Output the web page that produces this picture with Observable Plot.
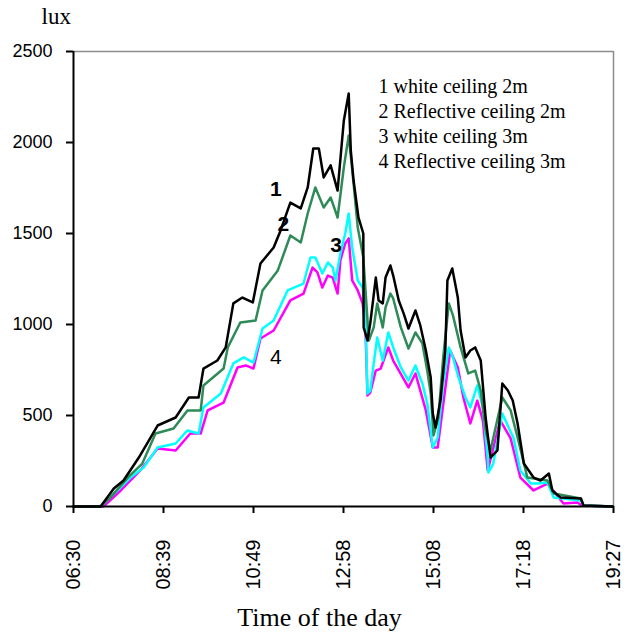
<!DOCTYPE html>
<html>
<head>
<meta charset="utf-8">
<script src="https://cdn.jsdelivr.net/npm/d3@7"></script>
<script src="https://cdn.jsdelivr.net/npm/@observablehq/plot@0.6"></script>
<style>
  html, body { margin: 0; padding: 0; background: #ffffff; }
</style>
</head>
<body>
<div id="chart"></div>
<script>
// ---- data (time in minutes since midnight, illuminance in lux) ----
const tickTimes = [390, 519.5, 649, 778.5, 908, 1037.5, 1167];
const tickLabels = ["06:30", "08:39", "10:49", "12:58", "15:08", "17:18", "19:27"];
const yTicks = [0, 500, 1000, 1500, 2000, 2500];

const seriesNames = ["1 white ceiling 2m", "2 Reflective ceiling 2m", "3 white ceiling 3m", "4 Reflective ceiling 3m"];
const seriesColors = ["#000000", "#2e8b57", "#00ffff", "#ff00ff"];

// series 1: white ceiling 2m
const t1 = [390, 429, 448, 462, 484, 511, 537, 556, 570, 577, 597, 609, 620, 633, 648, 659, 678, 688, 702, 717, 727, 735, 743, 750, 760, 770, 779, 786, 789, 793, 800, 807, 807.5, 813, 817, 825, 829, 835, 839, 846, 850, 858, 865, 872, 882, 889, 897, 904, 907, 911, 918, 925, 928, 935, 943, 947, 954, 961, 968, 976, 983, 990, 1000, 1007, 1015, 1022, 1029, 1038, 1052, 1062, 1074, 1079, 1091, 1120, 1124, 1166];
const v1 = [0, 0, 99, 143, 269, 445, 489, 599, 599, 758, 802, 874, 1116, 1148, 1121, 1335, 1423, 1517, 1670, 1638, 1753, 1967, 1967, 1808, 1874, 1736, 2121, 2269, 1956, 1791, 1588, 1500, 984, 912, 1006, 1258, 1132, 1116, 1258, 1324, 1269, 1132, 1061, 978, 1077, 995, 857, 709, 511, 434, 582, 857, 1242, 1308, 1148, 967, 819, 857, 874, 802, 489, 269, 308, 676, 637, 582, 456, 236, 159, 143, 181, 88, 49, 44, 5, 0];

// series 2: reflective ceiling 2m
const t2 = [390, 429, 443, 468, 489, 508, 534, 554, 573, 577, 606, 612, 630, 652, 662, 684, 702, 717, 727, 738, 750, 760, 770, 779, 786, 793, 799, 806, 807, 815, 822, 827, 835, 839, 846, 850, 861, 872, 882, 892, 899, 904, 908, 915, 922, 930, 936, 947, 958, 968, 976, 983, 990, 1007, 1019, 1029, 1043, 1072, 1081, 1120, 1124, 1166];
const v2 = [0, 0, 49, 159, 236, 401, 429, 528, 528, 665, 758, 874, 1011, 1022, 1187, 1297, 1489, 1451, 1610, 1753, 1643, 1698, 1588, 1863, 2039, 1775, 1533, 1390, 1368, 912, 984, 1116, 984, 1094, 1170, 1143, 984, 868, 956, 896, 747, 621, 390, 489, 819, 1116, 1050, 874, 731, 747, 637, 418, 308, 599, 528, 379, 159, 143, 71, 44, 5, 0];

// series 3: white ceiling 3m
const t3 = [390, 429, 453, 472, 491, 511, 537, 554, 570, 577, 602, 620, 635, 649, 662, 678, 698, 721, 731, 738, 748, 756, 763, 767, 774, 781, 786, 791, 799, 806, 810, 813, 817, 822, 827, 835, 843, 850, 861, 872, 882, 892, 899, 907, 914, 922, 930, 936, 944, 954, 961, 971, 979, 986, 987, 994, 1007, 1016, 1023, 1033, 1048, 1058, 1072, 1081, 1120, 1124, 1166];
const v3 = [0, 0, 88, 159, 214, 324, 346, 418, 401, 544, 621, 786, 819, 791, 978, 1022, 1187, 1225, 1368, 1368, 1280, 1341, 1313, 1242, 1390, 1500, 1610, 1423, 1242, 1203, 1061, 621, 637, 786, 929, 802, 956, 874, 764, 692, 775, 676, 566, 324, 379, 676, 874, 819, 709, 599, 544, 665, 544, 269, 187, 236, 511, 434, 379, 198, 126, 126, 132, 49, 33, 5, 0];

// series 4: reflective ceiling 3m
const t4 = [390, 433, 458, 486, 511, 537, 558, 573, 583, 606, 626, 638, 649, 659, 678, 702, 721, 734, 741, 748, 756, 763, 770, 774, 781, 786, 791, 799, 806, 810, 813, 817, 825, 832, 843, 850, 872, 882, 897, 907, 914, 932, 943, 951, 961, 971, 979, 986, 1004, 1019, 1033, 1052, 1072, 1095, 1115, 1122, 1166];
const v4 = [0, 0, 88, 198, 319, 308, 401, 401, 528, 571, 764, 775, 758, 923, 967, 1132, 1170, 1313, 1286, 1203, 1269, 1258, 1170, 1352, 1445, 1473, 1242, 1187, 1116, 984, 610, 626, 747, 758, 874, 802, 654, 731, 528, 324, 324, 857, 764, 599, 456, 582, 473, 198, 473, 374, 159, 88, 126, 16, 22, 5, 0];

// curve number annotations
const labelText = ["1", "2", "3", "4"];
const labelTime = [681, 692, 768, 681];
const labelLux = [1742, 1550, 1434, 819];
const labelWeight = ["bold", "bold", "bold", "normal"];

// ---- build table ----
const seriesT = [t1, t2, t3, t4];
const seriesV = [v1, v2, v3, v4];
const rows = [];
// draw order: 4, 3, 2, 1
[3, 2, 1, 0].forEach(s => {
  seriesT[s].forEach((t, i) => rows.push({series: seriesNames[s], time: t, lux: seriesV[s][i]}));
});
const labels = labelText.map((t, i) => ({text: t, time: labelTime[i], lux: labelLux[i], weight: labelWeight[i]}));
const tickLabelMap = new Map(tickTimes.map((t, i) => [t, tickLabels[i]]));

const serif = "'Liberation Serif', 'Times New Roman', serif";
const sans = "'Liberation Sans', Arial, sans-serif";

const chart = Plot.plot({
  width: 639,
  height: 633,
  marginLeft: 73,
  marginRight: 26,
  marginTop: 51,
  marginBottom: 127,
  style: {fontFamily: sans, background: "#ffffff", overflow: "visible", color: "#000"},
  x: {domain: [390, 1167]},
  y: {domain: [0, 2500]},
  color: {domain: seriesNames, range: seriesColors},
  marks: [
    Plot.ruleY([2500], {stroke: "#8c8c8c", strokeWidth: 1.5}),
    Plot.ruleX([1167], {stroke: "#8c8c8c", strokeWidth: 1.5}),
    Plot.line(rows, {x: "time", y: "lux", z: "series", stroke: "series", strokeWidth: 2.5, curve: "linear"}),
    Plot.ruleX([390], {stroke: "#000", strokeWidth: 2}),
    Plot.ruleY([0], {stroke: "#000", strokeWidth: 2}),
    Plot.axisY({ticks: yTicks, tickFormat: d => String(d), tickSize: 7, tickPadding: 14, fontSize: 18, strokeWidth: 2, label: null}),
    Plot.axisX({ticks: tickTimes, tickFormat: d => tickLabelMap.get(d), tickRotate: -90, tickSize: 7, tickPadding: 26, fontSize: 20, strokeWidth: 2, label: null}),
    Plot.text(labels.filter(d => d.weight === "bold"), {x: "time", y: "lux", text: "text", fontSize: 21, fontWeight: "bold", fill: "#000"}),
    Plot.text(labels.filter(d => d.weight !== "bold"), {x: "time", y: "lux", text: "text", fontSize: 21, fill: "#000"}),
    Plot.text([seriesNames.join("\n")], {frameAnchor: "top-left", dx: 305, dy: 116, lineAnchor: "bottom", lineHeight: 1.25, textAnchor: "start", fontSize: 20, fontFamily: serif, fill: "#000"}),
    Plot.text(["lux"], {frameAnchor: "top-left", dx: -32, dy: -28, lineAnchor: "bottom", textAnchor: "start", fontSize: 23, fontFamily: serif, fill: "#000"}),
    Plot.text(["Time of the day"], {frameAnchor: "bottom", dx: -24, dy: 119, lineAnchor: "bottom", textAnchor: "middle", fontSize: 26, fontFamily: serif, fill: "#000"})
  ]
});
document.getElementById("chart").appendChild(chart);
</script>
</body>
</html>
